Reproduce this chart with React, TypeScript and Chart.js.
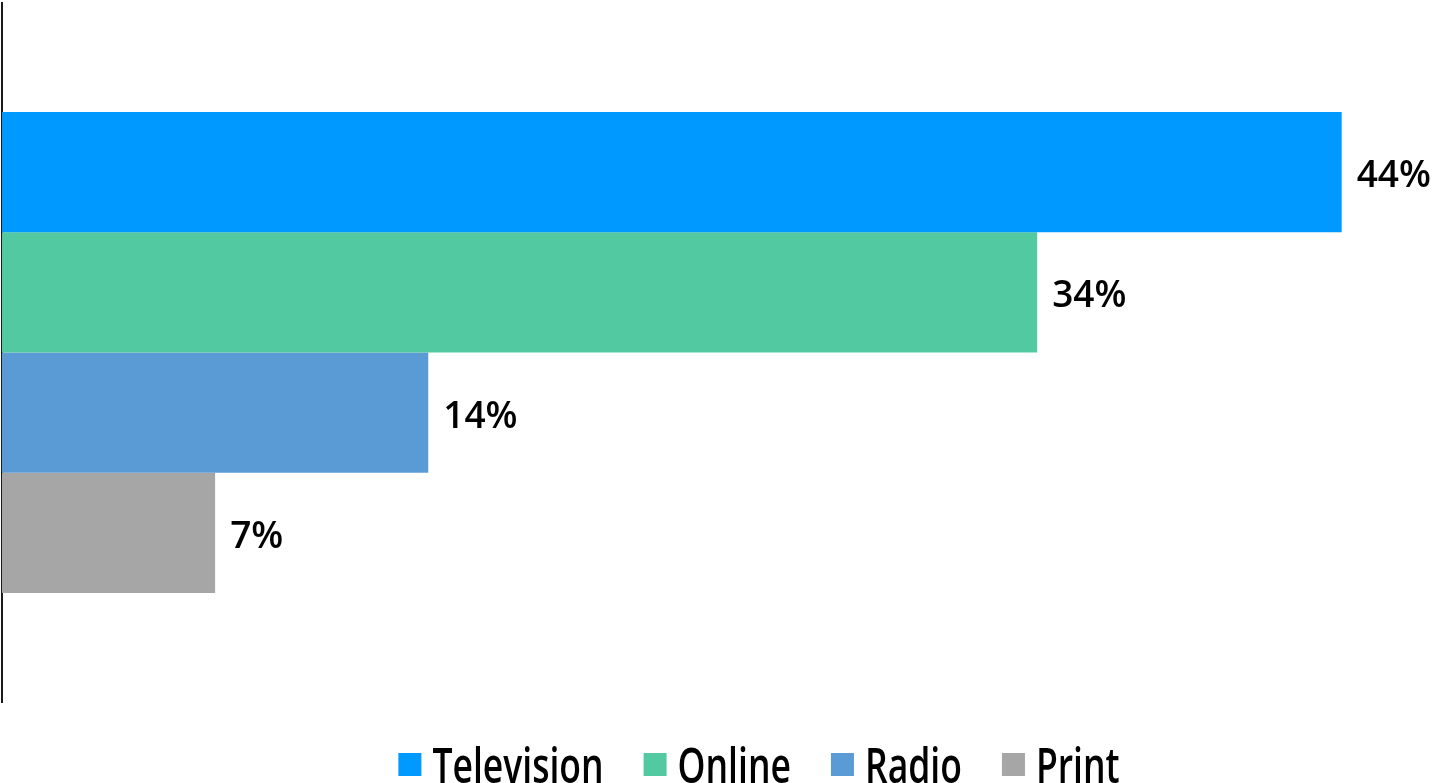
import React, { useEffect, useRef } from "react";
import { Chart, registerables } from "chart.js";

Chart.register(...registerables);

// media channels, one bar each
const channels = ["Television", "Online", "Radio", "Print"];
const shares = [44, 34, 14, 7];
const colors = ["#0099ff", "#52c9a0", "#5b9bd5", "#a6a6a6"];
const axisMax = 47;

const FONT = '"Open Sans", "Noto Sans", sans-serif';

// value labels to the right of each bar
const valueLabels = {
  id: "valueLabels",
  afterDatasetsDraw(chart: any) {
    const ctx = chart.ctx;
    ctx.save();
    ctx.font = `600 37px ${FONT}`;
    ctx.fillStyle = "#000";
    ctx.textAlign = "left";
    ctx.textBaseline = "alphabetic";
    chart.data.datasets.forEach((ds: any, i: number) => {
      const bar = chart.getDatasetMeta(i).data[0];
      if (!bar) return;
      ctx.fillText(`${ds.data[0]}%`, bar.x + 15, bar.y + 15);
    });
    ctx.restore();
  },
};

// condensed legend along the bottom edge
const bottomLegend = {
  id: "bottomLegend",
  afterDraw(chart: any) {
    const ctx = chart.ctx;
    const squeeze = 0.74;
    const box = 23;
    const gap = 11;
    const spacing = 40;
    ctx.save();
    ctx.font = `600 48px ${FONT}`;
    const sets = chart.data.datasets;
    const widths = sets.map((d: any) => ctx.measureText(d.label).width * squeeze);
    const total =
      widths.reduce((a: number, w: number) => a + box + gap + w, 0) + spacing * (sets.length - 1);
    let x = 759 - total / 2;
    sets.forEach((d: any, i: number) => {
      ctx.fillStyle = d.backgroundColor;
      ctx.fillRect(x, 753, box, box);
      ctx.save();
      ctx.translate(x + box + gap, 783);
      ctx.scale(squeeze, 1);
      ctx.fillStyle = "#000";
      ctx.textBaseline = "alphabetic";
      ctx.fillText(d.label, 0, 0);
      ctx.restore();
      x += box + gap + widths[i] + spacing;
    });
    ctx.restore();
  },
};

const App: React.FC = () => {
  const canvasRef = useRef<HTMLCanvasElement>(null);

  useEffect(() => {
    document.body.style.margin = "0";
    document.body.style.overflow = "hidden";
    if (!canvasRef.current) return;
    const chart = new Chart(canvasRef.current, {
      type: "bar",
      data: {
        labels: [""],
        datasets: channels.map((name, i) => ({
          label: name,
          data: [shares[i]],
          backgroundColor: colors[i],
          borderWidth: 0,
          barPercentage: 1,
          categoryPercentage: 0.688,
        })),
      },
      options: {
        indexAxis: "y",
        animation: false,
        responsive: true,
        maintainAspectRatio: false,
        layout: { padding: { left: 2, right: 2, top: 3, bottom: 81 } },
        plugins: {
          legend: { display: false },
          tooltip: { enabled: false },
        },
        scales: {
          x: { display: false, min: 0, max: axisMax },
          y: {
            display: true,
            grid: { display: false, drawTicks: false },
            ticks: { display: false },
            border: { display: true, color: "#1a1a1a", width: 2 },
          },
        },
      },
      plugins: [valueLabels, bottomLegend],
    });
    return () => chart.destroy();
  }, []);

  return (
    <div style={{ position: "relative", width: "1435px", height: "783px" }}>
      <canvas ref={canvasRef}></canvas>
    </div>
  );
};

export default App;
